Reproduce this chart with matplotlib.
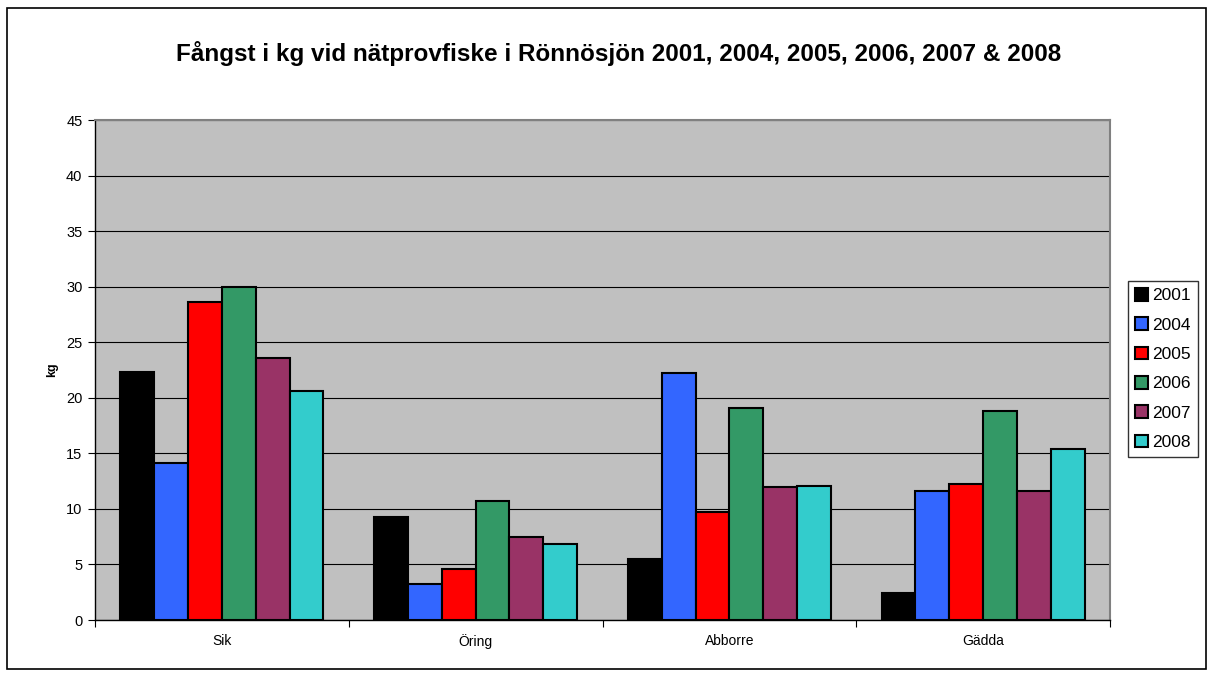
import numpy as np
import matplotlib
matplotlib.use("Agg")
import matplotlib.pyplot as plt
from matplotlib.patches import Rectangle

plt.rcParams['font.family'] = ['Liberation Sans', 'DejaVu Sans']

# Data
categories = ['Sik', 'Öring', 'Abborre', 'Gädda']
years = ['2001', '2004', '2005', '2006', '2007', '2008']
kg_2001 = [22.3, 9.3, 5.5, 2.4]
kg_2004 = [14.1, 3.2, 22.2, 11.6]
kg_2005 = [28.6, 4.6, 9.75, 12.2]
kg_2006 = [30.0, 10.7, 19.1, 18.8]
kg_2007 = [23.6, 7.45, 12.0, 11.6]
kg_2008 = [20.6, 6.8, 12.1, 15.4]
series = [kg_2001, kg_2004, kg_2005, kg_2006, kg_2007, kg_2008]
colors = ['#000000', '#3366FF', '#FF0000', '#339966', '#993366', '#33CCCC']

fig = plt.figure(figsize=(12.14, 6.77), dpi=100)
ax = fig.add_axes([95 / 1214, 1 - 620 / 677, 1015 / 1214, 500 / 677])

# outer chart border
fig.patches.append(Rectangle((7 / 1214, 8 / 677), 1199 / 1214, 661 / 677,
                             transform=fig.transFigure, fill=False,
                             edgecolor='black', linewidth=1.2))

ax.set_facecolor('#C0C0C0')
x = np.arange(len(categories))
width = 0.8 / len(series)
for i, (vals, col, yr) in enumerate(zip(series, colors, years)):
    ax.bar(x - 0.4 + width * (i + 0.5), vals, width, color=col,
           edgecolor='black', linewidth=1.5, label=yr, zorder=3)

ax.set_xlim(-0.5, len(categories) - 0.5)
ax.set_ylim(0, 45)
ax.set_yticks(np.arange(0, 46, 5))
ax.yaxis.grid(True, color='black', linewidth=0.8, zorder=1)
ax.set_axisbelow(True)

# category labels centered, ticks on the boundaries
ax.set_xticks(np.arange(-0.5, len(categories), 1.0))
ax.set_xticklabels([])
ax.set_xticks(x, minor=True)
ax.set_xticklabels(categories, minor=True, fontsize=10)
ax.tick_params(axis='x', which='minor', length=0, pad=10)
ax.tick_params(axis='x', which='major', length=5, direction='out', color='black')
ax.tick_params(axis='y', length=5, direction='out', labelsize=10.5, pad=4)

for side in ['top', 'right']:
    ax.spines[side].set_color('#808080')
    ax.spines[side].set_linewidth(1.5)
for side in ['left', 'bottom']:
    ax.spines[side].set_color('black')
    ax.spines[side].set_linewidth(1.0)

ax.set_ylabel('kg', fontsize=9, fontweight='bold', labelpad=6)

fig.text(619 / 1214, 1 - 53 / 677, 'Fångst i kg vid nätprovfiske i Rönnösjön 2001, 2004, 2005, 2006, 2007 & 2008',
         ha='center', va='center', fontsize=17.5, fontweight='bold')

leg = ax.legend(loc='center left', bbox_to_anchor=(1128 / 1214, 1 - 369 / 677),
                bbox_transform=fig.transFigure, fontsize=12.5, frameon=True,
                fancybox=False, edgecolor='black', handlelength=0.75,
                handleheight=0.75, handletextpad=0.25, labelspacing=0.8,
                borderpad=0.4, borderaxespad=0)
leg.get_frame().set_linewidth(1.0)

fig.savefig('out.png', dpi=100)
